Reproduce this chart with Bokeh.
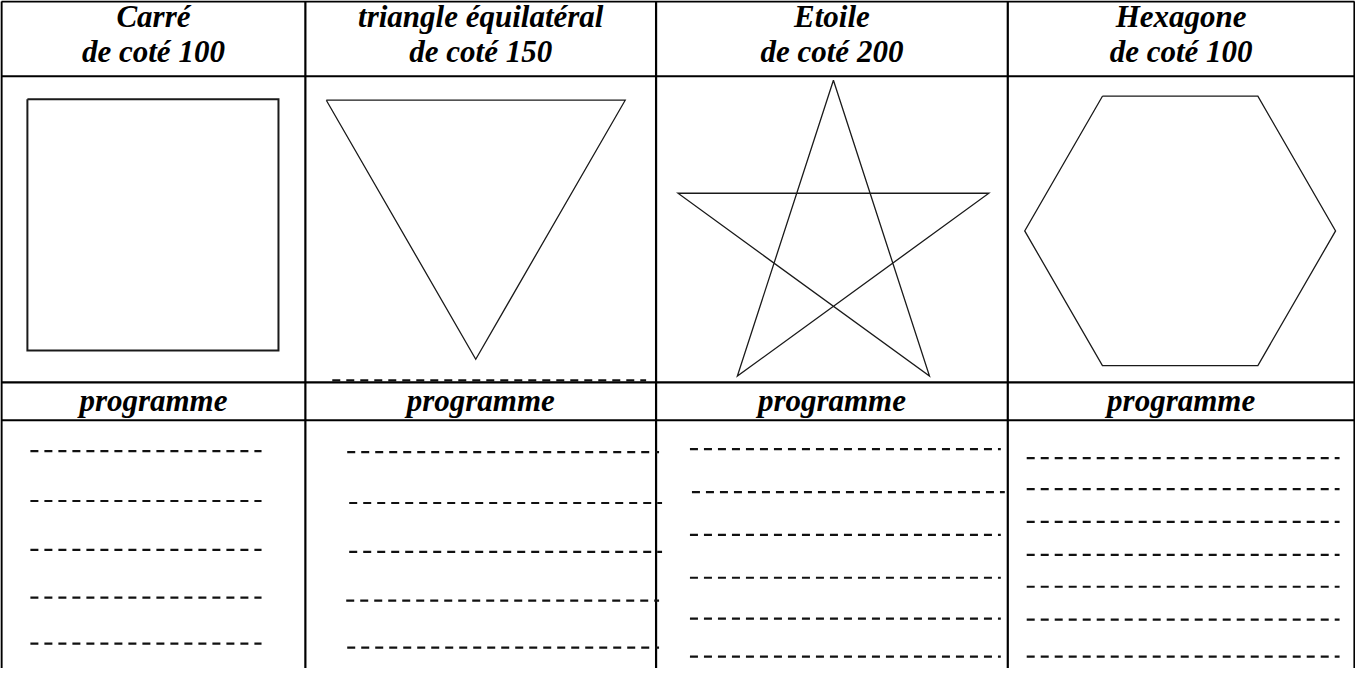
import math
from bokeh.plotting import figure
from bokeh.models import Range1d, ColumnDataSource
from bokeh.core.properties import value
from bokeh.embed import file_html
from bokeh.resources import INLINE

# ---------------- data ----------------
titles_line1 = ["Carré", "triangle équilatéral", "Etoile", "Hexagone"]
titles_line2 = ["de coté 100", "de coté 150", "de coté 200", "de coté 100"]
program_label = "programme"
side_lengths = [100, 150, 200, 100]        # turtle side length
n_strokes = [4, 3, 5, 6]                   # number of strokes
turn_angles = [90, 120, -144, 60]          # turtle turn (deg, screen coords)
start_headings = [0, 0, 108, 0]            # initial heading (deg)
dash_line_counts = [5, 5, 6, 7]

# ---------------- layout (reference pixel space) ----------------
col_edges = [7, 312, 664, 1017, 1365]
row_edges = [7, 82, 389, 427]
table_bottom = 700
shape_starts = [(33, 105), (333, 106), (842, 86), (1112, 102)]
px_per_unit = [2.52, 2.0, 1.56, 1.56]
shape_widths = [2.0, 1.3, 1.3, 1.3]
text_rows_y = [22, 57, 407]
dash_rows_y = [
    [458, 508, 557, 605, 651],
    [459, 510, 559, 608, 655],
    [456, 499, 542, 585, 626, 664],
    [465, 496, 529, 562, 594, 627, 664],
]
dash_rows_x = [
    [(36, 268)] * 5,
    [(354, 667), (356, 670), (356, 670), (353, 667), (354, 667)],
    [(698, 1010), (700, 1014), (698, 1010), (698, 1010), (698, 1010), (698, 1010)],
    [(1036, 1350)] * 7,
]
extra_dash = ((339, 654), 387)

FONT = value("Liberation Serif")

p = figure(width=1355, height=668, output_backend="svg", toolbar_location=None,
           x_range=Range1d(6, 1366), y_range=Range1d(676, 6),
           x_axis_location=None, y_axis_location=None, min_border=0)
p.outline_line_color = None
p.background_fill_color = "white"
p.border_fill_color = "white"
p.xgrid.visible = False
p.ygrid.visible = False

# table grid
for x in col_edges:
    p.line([x, x], [row_edges[0], table_bottom], line_color="black", line_width=2.2)
for y in row_edges:
    p.line([col_edges[0], col_edges[-1]], [y, y], line_color="black", line_width=2.2)

# shapes drawn turtle-style
for i in range(4):
    x, y = shape_starts[i]
    xs, ys = [x], [y]
    h = start_headings[i]
    L = side_lengths[i] * px_per_unit[i]
    for k in range(n_strokes[i]):
        x += L * math.cos(math.radians(h))
        y += L * math.sin(math.radians(h))
        xs.append(x); ys.append(y)
        h += turn_angles[i]
    p.line(xs, ys, line_color="#1a1a1a", line_width=shape_widths[i], line_join="miter")

# headers
centers = [(col_edges[i] + col_edges[i + 1]) / 2 for i in range(4)]
src = ColumnDataSource(dict(x=centers,
                            y1=[text_rows_y[0]] * 4, y2=[text_rows_y[1]] * 4,
                            yp=[text_rows_y[2]] * 4,
                            t1=titles_line1, t2=titles_line2, tp=[program_label] * 4))
for ycol, tcol in (("y1", "t1"), ("y2", "t2"), ("yp", "tp")):
    p.text(x="x", y=ycol, text=tcol, source=src, text_font=FONT,
           text_font_style="bold italic", text_font_size="31px",
           text_align="center", text_baseline="alphabetic", text_color="black")

# dashed writing lines
for i in range(4):
    for j in range(dash_line_counts[i]):
        (xa, xb) = dash_rows_x[i][j]
        yy = dash_rows_y[i][j]
        p.line([xa, xb], [yy, yy], line_color="#111111", line_width=2.2,
               line_dash="8 6")
(xa, xb), yy = extra_dash
p.line([xa, xb], [yy, yy], line_color="#111111", line_width=2.2, line_dash="8 6")

open("out.html", "w").write(file_html(p, INLINE))
